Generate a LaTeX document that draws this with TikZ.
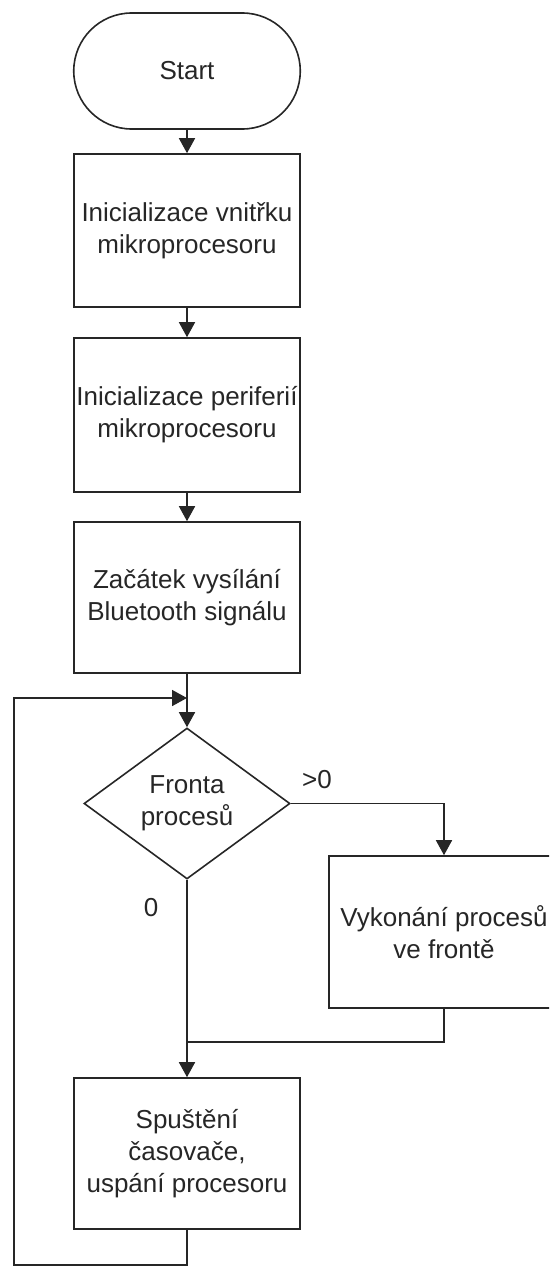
\documentclass[tikz,border=0pt]{standalone}
\usepackage{fontspec}
\setmainfont{Liberation Sans}
\usetikzlibrary{shapes.geometric,arrows.meta}
\definecolor{ink}{HTML}{262626}
\tikzset{
  base/.style={draw=ink, line width=1.6pt, text=ink, align=center,
    font=\fontsize{26}{32}\selectfont, inner sep=0pt},
  procbox/.style={base, rectangle, minimum width=226.5pt},
  termbox/.style={base, rectangle, rounded corners=57.9pt, minimum width=226.5pt, minimum height=116pt},
  decbox/.style={base, diamond, aspect=1.364, minimum width=206pt, minimum height=151pt},
  lbl/.style={text=ink, font=\fontsize{26}{32}\selectfont, inner sep=0pt},
  arr/.style={draw=ink, line width=1.6pt, -{Triangle[width=16pt,length=15pt]}},
  ln/.style={draw=ink, line width=1.6pt}
}
\begin{document}
\begin{tikzpicture}[x=1pt,y=-1pt]
\useasboundingbox (0,0) rectangle (549,1266);
\clip (0,0) rectangle (549,1266);
\node[termbox] (start) at (187,71) {Start};
\node[procbox, minimum height=153pt] (b1) at (187,230.5) {Inicializace vnitřku\\mikroprocesoru};
\node[procbox, minimum height=154pt] (b2) at (187,415) {Inicializace periferií\\mikroprocesoru};
\node[procbox, minimum height=151pt] (b3) at (187,597.5) {Začátek vysílání\\Bluetooth signálu};
\node[decbox] (dec) at (187,803.5) {Fronta\\procesů};
\node[procbox, minimum width=230pt, minimum height=152pt] (b4) at (444,932) {Vykonání procesů\\ve frontě};
\node[procbox, minimum height=151pt] (b5) at (187,1153.5) {Spuštění\\časovače,\\uspání procesoru};
\node[lbl] (gt) at (317,780) {>0};
\node[lbl] (zero) at (151,908) {0};
\coordinate (loopin) at (187,698);
\coordinate (lcorner) at (14,1265);
\coordinate (merge) at (187,1042);
\draw[arr] (start) -- (b1);
\draw[arr] (b1) -- (b2);
\draw[arr] (b2) -- (b3);
\draw[arr] (b3) -- (dec);
\draw[arr] (dec.east) -| (b4.north);
\draw[arr] (dec.south) -- (b5.north);
\draw[ln] (b4.south) |- (merge);
\draw[arr] (b5.south) |- (lcorner) |- (loopin);
\end{tikzpicture}
\end{document}
